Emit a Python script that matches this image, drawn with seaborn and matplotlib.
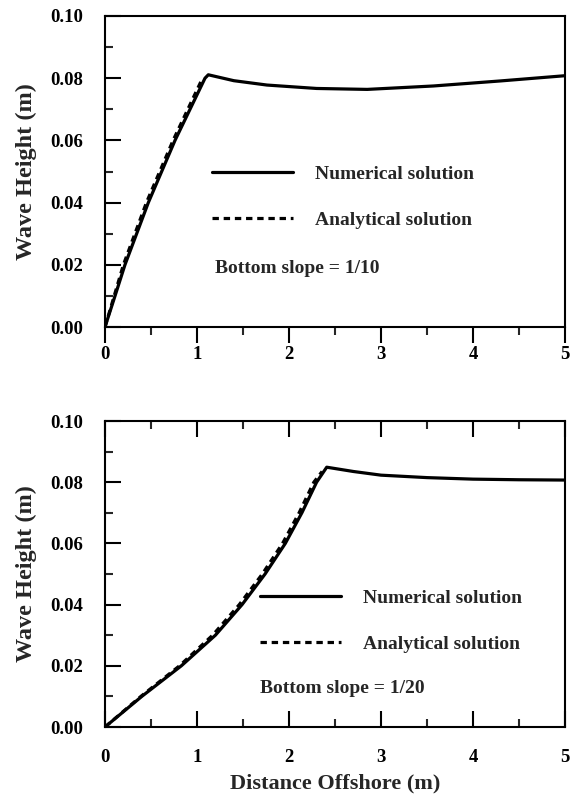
import numpy as np
import pandas as pd
import matplotlib
matplotlib.use("Agg")
import matplotlib.pyplot as plt
import seaborn as sns
from matplotlib.lines import Line2D
from matplotlib.ticker import MultipleLocator

# ---- data ----
top_num_x = [0, 0.109, 0.217, 0.344, 0.471, 0.616, 0.761, 0.924, 1.087, 1.123, 1.40, 1.76, 2.30, 2.85, 3.57, 4.29, 5.00]
top_num_y = [0, 0.010, 0.020, 0.030, 0.040, 0.050, 0.060, 0.070, 0.080, 0.0811, 0.0792, 0.0778, 0.0767, 0.0764, 0.0775, 0.0791, 0.0808]
top_ana_x = [0, 0.10, 0.20, 0.325, 0.45, 0.595, 0.74, 0.90, 1.06]
top_ana_y = [0, 0.010, 0.020, 0.030, 0.040, 0.050, 0.060, 0.070, 0.080]

bot_num_x = [0, 0.40, 0.83, 1.20, 1.49, 1.74, 1.96, 2.14, 2.30, 2.41, 2.70, 3.00, 3.50, 4.00, 4.50, 5.00]
bot_num_y = [0, 0.010, 0.020, 0.030, 0.040, 0.050, 0.060, 0.070, 0.080, 0.0849, 0.0835, 0.0823, 0.0815, 0.0810, 0.0808, 0.0807]
bot_ana_x = [0, 0.39, 0.81, 1.17, 1.46, 1.71, 1.93, 2.11, 2.27, 2.36]
bot_ana_y = [0, 0.010, 0.020, 0.030, 0.040, 0.050, 0.060, 0.070, 0.080, 0.0835]

x_ticks = [0, 1, 2, 3, 4, 5]
y_ticks = [0.00, 0.02, 0.04, 0.06, 0.08, 0.10]
y_ticklabels = ["0.00", "0.02", "0.04", "0.06", "0.08", "0.10"]
legend_labels = ["Numerical solution", "Analytical solution"]
slope_labels = ["Bottom slope = 1/10", "Bottom slope = 1/20"]
xlabel = "Distance Offshore (m)"
ylabel = "Wave Height (m)"

sns.set_theme(style="white")
plt.rcParams["font.family"] = ["Liberation Serif", "DejaVu Serif"]
plt.rcParams["font.weight"] = "bold"

fig = plt.figure(figsize=(5.73, 7.95), dpi=100)
ax1 = fig.add_axes([105/573, 1-327/795, 460/573, 311/795])
ax2 = fig.add_axes([105/573, 1-727/795, 460/573, 306/795])

LW = 2.3
DASH = (2.0, 1.5)

def frame(df_num, df_ana, ax):
    sns.lineplot(data=df_ana, x="x", y="y", ax=ax, color="black", lw=LW,
                 dashes=False, linestyle=(0, DASH), estimator=None, sort=False)
    sns.lineplot(data=df_num, x="x", y="y", ax=ax, color="black", lw=LW,
                 estimator=None, sort=False)
    ax.set_xlim(0, 5)
    ax.set_ylim(0, 0.10)
    ax.set_xticks(x_ticks)
    ax.xaxis.set_minor_locator(MultipleLocator(0.5))
    ax.set_yticks(y_ticks)
    ax.set_yticklabels(y_ticklabels)
    ax.yaxis.set_minor_locator(MultipleLocator(0.01))
    for s in ax.spines.values():
        s.set_visible(True)
        s.set_linewidth(1.5)
        s.set_color("black")
    ax.set_ylabel(ylabel, fontsize=17.5, fontweight="bold", labelpad=9)
    ax.set_xlabel("")
    for lab in ax.get_xticklabels() + ax.get_yticklabels():
        lab.set_fontweight("bold")
        lab.set_fontsize(13.5)

df_t_num = pd.DataFrame({"x": top_num_x, "y": top_num_y})
df_t_ana = pd.DataFrame({"x": top_ana_x, "y": top_ana_y})
df_b_num = pd.DataFrame({"x": bot_num_x, "y": bot_num_y})
df_b_ana = pd.DataFrame({"x": bot_ana_x, "y": bot_ana_y})

frame(df_t_num, df_t_ana, ax1)
frame(df_b_num, df_b_ana, ax2)

# top panel ticks
ax1.tick_params(axis="x", which="major", direction="out", length=11.5, width=1.5, pad=2,
                bottom=True, top=False, colors="black")
ax1.tick_params(axis="x", which="minor", direction="out", length=6, width=1.5, bottom=True, top=False)
ax1.tick_params(axis="y", which="major", direction="in", length=11.5, width=1.5, pad=16,
                left=True, right=False, colors="black")
ax1.tick_params(axis="y", which="minor", direction="in", length=6, width=1.5, left=True, right=False)

# bottom panel ticks
ax2.tick_params(axis="x", which="major", direction="in", length=11.5, width=1.5, pad=16,
                bottom=True, top=True, colors="black")
ax2.tick_params(axis="x", which="minor", direction="in", length=6, width=1.5, bottom=True, top=True)
ax2.tick_params(axis="y", which="major", direction="in", length=11.5, width=1.5, pad=16,
                left=True, right=False, colors="black")
ax2.tick_params(axis="y", which="minor", direction="in", length=6, width=1.5, left=True, right=False)
# top ticks of lower panel point outward
for t in ax2.xaxis.get_major_ticks() + ax2.xaxis.get_minor_ticks():
    t.tick2line.set_marker(3)  # TICKUP
ax2.set_xlabel(xlabel, fontsize=16, fontweight="bold", labelpad=5)

handles = [Line2D([], [], color="black", lw=LW),
           Line2D([], [], color="black", lw=LW, linestyle=(0, DASH))]
leg_kw = dict(frameon=False, loc="upper left", borderaxespad=0, borderpad=0,
              handlelength=4.15, handletextpad=1.15, labelspacing=1.45,
              prop={"family": "Liberation Serif", "weight": "bold", "size": 14})
ax1.legend(handles, legend_labels, bbox_to_anchor=(0.233, 0.52), **leg_kw)
ax2.legend(handles, legend_labels, bbox_to_anchor=(0.337, 0.45), **leg_kw)

ax1.text(1.196, 0.0187, slope_labels[0], fontsize=14, fontweight="bold", va="center", ha="left")
ax2.text(1.685, 0.0127, slope_labels[1], fontsize=14, fontweight="bold", va="center", ha="left")

fig.savefig("out.png", dpi=100)
